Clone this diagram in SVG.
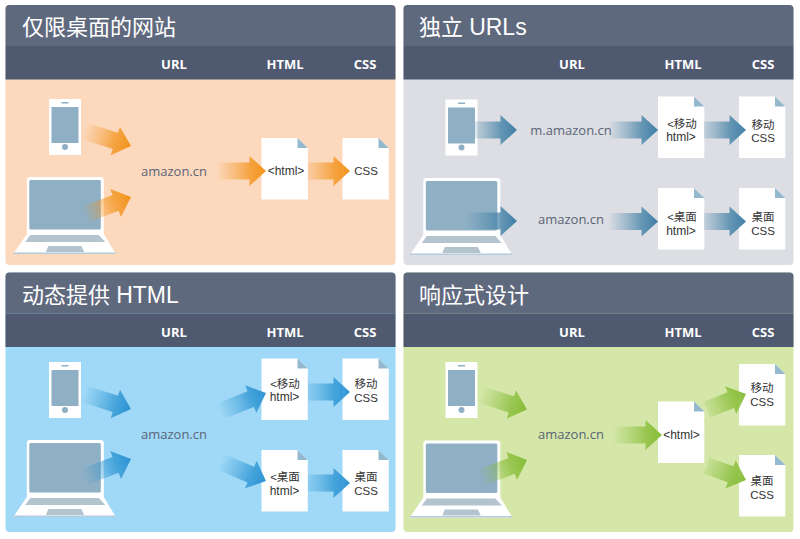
<svg xmlns="http://www.w3.org/2000/svg" xmlns:xlink="http://www.w3.org/1999/xlink" width="800" height="539" viewBox="0 0 800 539">
<style>
text{font-family:"Liberation Sans","Noto Sans CJK SC",sans-serif;text-anchor:middle}
.title{font-size:22px;fill:#fff;text-anchor:start;font-family:"Liberation Sans","Noto Sans CJK SC",sans-serif}
.lat{font-size:23px}
.col{font-size:13px;font-weight:700;fill:#fff;font-family:"Open Sans","Noto Sans CJK SC",sans-serif}
.url{font-size:13px;fill:#5a6478;font-family:"Open Sans","Noto Sans CJK SC",sans-serif}
.doc{font-size:11.500px;fill:#333}
.htm{font-size:12px;fill:#333}
</style>
<defs>
<linearGradient id="go" gradientUnits="userSpaceOnUse" x1="-50" y1="0" x2="0" y2="0"><stop offset="0" stop-color="#f3921a" stop-opacity="0"/><stop offset=".4" stop-color="#f3921a" stop-opacity=".42"/><stop offset=".67" stop-color="#f3921a" stop-opacity=".75"/><stop offset="1" stop-color="#f3921a"/></linearGradient>
<linearGradient id="gs" gradientUnits="userSpaceOnUse" x1="-50" y1="0" x2="0" y2="0"><stop offset="0" stop-color="#3f7fa6" stop-opacity="0"/><stop offset=".4" stop-color="#3f7fa6" stop-opacity=".42"/><stop offset=".67" stop-color="#3f7fa6" stop-opacity=".75"/><stop offset="1" stop-color="#3f7fa6"/></linearGradient>
<linearGradient id="gb" gradientUnits="userSpaceOnUse" x1="-50" y1="0" x2="0" y2="0"><stop offset="0" stop-color="#2a93d2" stop-opacity="0"/><stop offset=".4" stop-color="#2a93d2" stop-opacity=".42"/><stop offset=".67" stop-color="#2a93d2" stop-opacity=".75"/><stop offset="1" stop-color="#2a93d2"/></linearGradient>
<linearGradient id="gg" gradientUnits="userSpaceOnUse" x1="-50" y1="0" x2="0" y2="0"><stop offset="0" stop-color="#86bc36" stop-opacity="0"/><stop offset=".4" stop-color="#86bc36" stop-opacity=".42"/><stop offset=".67" stop-color="#86bc36" stop-opacity=".75"/><stop offset="1" stop-color="#86bc36"/></linearGradient>
<path id="a42" d="M0 0L-16.500 -15V-8.500H-42V8.500H-16.500V15Z"/>
<path id="a50" d="M0 0L-16.500 -15V-8.500H-50V8.500H-16.500V15Z"/>
<path id="a55" d="M0 0L-16.500 -15V-8.500H-55V8.500H-16.500V15Z"/>
<g id="head">
<path d="M0 41V4a4 4 0 0 1 4-4H386a4 4 0 0 1 4 4V41Z" fill="#5f697e"/>
<rect y="41" width="390" height="33.500" fill="#4f5970"/>
</g>
<g id="phone">
<rect width="32" height="56" fill="#fff"/>
<rect x="2.500" y="8" width="27" height="36" fill="#8eafc4"/>
<circle cx="16" cy="48" r="3" fill="#8eafc4"/>
<rect x="12.500" y="3" width="7" height="1.500" fill="#8eafc4"/>
</g>
<g id="laptop">
<path d="M0 77L13.500 57V3Q13.500 0 16.500 0H87.500Q90.500 0 90.500 3V57L102.500 77Z" fill="#fff"/>
<rect x="16" y="3" width="71.500" height="49.500" rx="1.500" fill="#8eafc4"/>
<path d="M12 65L17 58H85.500L92 65Z" fill="#b4c4cf"/>
<path d="M32.500 75L35 69H68L71 75Z" fill="#b4c4cf"/>
<rect y="75.500" width="102.500" height="1.500" fill="#b3cbdc"/>
</g>
<g id="page">
<path d="M0 0H36L46.300 10V61.500H0Z" fill="#fff"/>
<path d="M36 0L46.300 10H36Z" fill="#94b9cf"/>
</g>
</defs>

<g id="panels">
<rect x="5.500" y="5" width="390" height="260" rx="4" fill="#fcd9bd"/>
<use xlink:href="#head" href="#head" transform="translate(5.500 5)"/>
<rect x="403.500" y="5" width="390" height="260" rx="4" fill="#dcdee3"/>
<use xlink:href="#head" href="#head" transform="translate(403.500 5)"/>
<rect x="5.500" y="272.500" width="390" height="259.500" rx="4" fill="#a0d9f7"/>
<use xlink:href="#head" href="#head" transform="translate(5.500 272.500)"/>
<rect x="403.500" y="272.500" width="390" height="259.500" rx="4" fill="#d4e7a9"/>
<use xlink:href="#head" href="#head" transform="translate(403.500 272.500)"/>
</g>

<g id="headings">
<text class="title" x="22" y="35">仅限桌面的网站</text>
<text class="title" x="419" y="35">独立 <tspan class="lat">URLs</tspan></text>
<text class="title" x="22" y="303">动态提供 <tspan class="lat">HTML</tspan></text>
<text class="title" x="419" y="303">响应式设计</text>
<text class="col" x="174" y="69">URL</text><text class="col" x="285" y="69">HTML</text><text class="col" x="365" y="69">CSS</text>
<text class="col" x="572" y="69">URL</text><text class="col" x="683" y="69">HTML</text><text class="col" x="763" y="69">CSS</text>
<text class="col" x="174" y="336.500">URL</text><text class="col" x="285" y="336.500">HTML</text><text class="col" x="365" y="336.500">CSS</text>
<text class="col" x="572" y="336.500">URL</text><text class="col" x="683" y="336.500">HTML</text><text class="col" x="763" y="336.500">CSS</text>
</g>

<g id="n1-phone"><use xlink:href="#phone" href="#phone" x="49" y="99"/></g>
<g id="n1-laptop"><use xlink:href="#laptop" href="#laptop" x="13.300" y="177"/></g>
<g id="n1-url"><text class="url" x="174" y="176">amazon.cn</text></g>
<g id="n1-html"><use xlink:href="#page" href="#page" x="261.500" y="138"/></g>
<g id="n1-css"><use xlink:href="#page" href="#page" x="342.500" y="138"/></g>

<g id="n2-phone"><use xlink:href="#phone" href="#phone" x="445.500" y="99.500"/></g>
<g id="n2-laptop"><use xlink:href="#laptop" href="#laptop" x="409.800" y="178"/></g>
<g id="n2-url-m"><text class="url" x="571" y="135">m.amazon.cn</text></g>
<g id="n2-url-d"><text class="url" x="571" y="223.500">amazon.cn</text></g>
<g id="n2-html-m"><use xlink:href="#page" href="#page" x="658" y="96.500"/></g>
<g id="n2-css-m"><use xlink:href="#page" href="#page" x="739" y="96.500"/></g>
<g id="n2-html-d"><use xlink:href="#page" href="#page" x="658" y="188"/></g>
<g id="n2-css-d"><use xlink:href="#page" href="#page" x="739" y="188"/></g>

<g id="n3-phone"><use xlink:href="#phone" href="#phone" x="49" y="362"/></g>
<g id="n3-laptop"><use xlink:href="#laptop" href="#laptop" x="13.300" y="440"/></g>
<g id="n3-url"><text class="url" x="174" y="439">amazon.cn</text></g>
<g id="n3-html-m"><use xlink:href="#page" href="#page" x="261.500" y="358.500"/></g>
<g id="n3-css-m"><use xlink:href="#page" href="#page" x="342.500" y="358.500"/></g>
<g id="n3-html-d"><use xlink:href="#page" href="#page" x="261.500" y="450"/></g>
<g id="n3-css-d"><use xlink:href="#page" href="#page" x="342.500" y="450"/></g>

<g id="n4-phone"><use xlink:href="#phone" href="#phone" x="445.500" y="362"/></g>
<g id="n4-laptop"><use xlink:href="#laptop" href="#laptop" x="409.800" y="440.500"/></g>
<g id="n4-url"><text class="url" x="571" y="439">amazon.cn</text></g>
<g id="n4-html"><use xlink:href="#page" href="#page" x="658" y="401.500"/></g>
<g id="n4-css-m"><use xlink:href="#page" href="#page" x="739" y="364"/></g>
<g id="n4-css-d"><use xlink:href="#page" href="#page" x="739" y="455"/></g>

<g id="connectors">
<g fill="url(#go)">
<use xlink:href="#a50" href="#a50" transform="translate(131 146) rotate(18)"/>
<use xlink:href="#a50" href="#a50" transform="translate(131 197) rotate(-21)"/>
<use xlink:href="#a50" href="#a50" transform="translate(266 171)"/>
<use xlink:href="#a42" href="#a42" transform="translate(350 171)"/>
</g>
<g fill="url(#gs)">
<use xlink:href="#a42" href="#a42" transform="translate(517 130)"/>
<use xlink:href="#a50" href="#a50" transform="translate(517 221)"/>
<use xlink:href="#a55" href="#a55" transform="translate(658 130)"/>
<use xlink:href="#a42" href="#a42" transform="translate(746 130)"/>
<use xlink:href="#a55" href="#a55" transform="translate(658 221.500)"/>
<use xlink:href="#a42" href="#a42" transform="translate(746 221.500)"/>
</g>
<g fill="url(#gb)">
<use xlink:href="#a50" href="#a50" transform="translate(131 409) rotate(18)"/>
<use xlink:href="#a50" href="#a50" transform="translate(131 459) rotate(-21)"/>
<use xlink:href="#a50" href="#a50" transform="translate(266 393) rotate(-22)"/>
<use xlink:href="#a50" href="#a50" transform="translate(266 481) rotate(23)"/>
<use xlink:href="#a42" href="#a42" transform="translate(350 392)"/>
<use xlink:href="#a42" href="#a42" transform="translate(350 483)"/>
</g>
<g fill="url(#gg)">
<use xlink:href="#a50" href="#a50" transform="translate(527 409.500) rotate(18)"/>
<use xlink:href="#a50" href="#a50" transform="translate(527 460) rotate(-21)"/>
<use xlink:href="#a50" href="#a50" transform="translate(662 435)"/>
<use xlink:href="#a42" href="#a42" transform="translate(746 394) rotate(-22)"/>
<use xlink:href="#a42" href="#a42" transform="translate(746 480) rotate(20)"/>
</g>
</g>

<g id="page-labels">
<text class="htm" x="286" y="175">&lt;html&gt;</text>
<text class="doc" x="366" y="175">CSS</text>
<text class="doc" x="682" y="127.500">&lt;移动</text><text class="htm" x="681" y="141">html&gt;</text>
<text class="doc" x="763" y="128.500">移动</text><text class="doc" x="763" y="141.500">CSS</text>
<text class="doc" x="682" y="221">&lt;桌面</text><text class="htm" x="681" y="234.500">html&gt;</text>
<text class="doc" x="763" y="221">桌面</text><text class="doc" x="763" y="235">CSS</text>
<text class="doc" x="285" y="387.500">&lt;移动</text><text class="htm" x="284.500" y="400.500">html&gt;</text>
<text class="doc" x="366" y="388">移动</text><text class="doc" x="366" y="402">CSS</text>
<text class="doc" x="285" y="481">&lt;桌面</text><text class="htm" x="284.500" y="495">html&gt;</text>
<text class="doc" x="366" y="481">桌面</text><text class="doc" x="366" y="495">CSS</text>
<text class="htm" x="681.500" y="439">&lt;html&gt;</text>
<text class="doc" x="762" y="392">移动</text><text class="doc" x="762" y="406">CSS</text>
<text class="doc" x="762" y="485">桌面</text><text class="doc" x="762" y="499">CSS</text>
</g>
</svg>
